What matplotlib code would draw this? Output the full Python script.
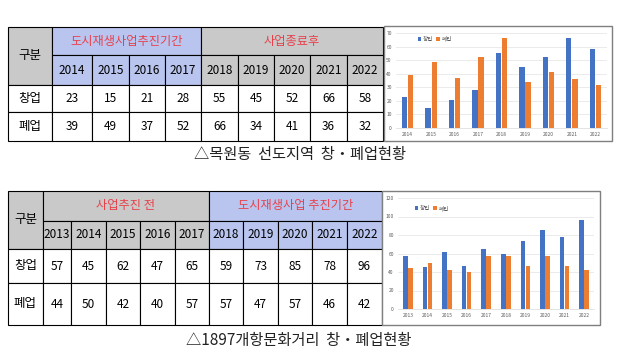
import matplotlib.pyplot as plt
import matplotlib.patches as patches
import numpy as np

plt.rcParams['font.family'] = ['Noto Sans CJK KR', 'DejaVu Sans']
plt.rcParams['font.weight'] = 'light'

years1 = [2014, 2015, 2016, 2017, 2018, 2019, 2020, 2021, 2022]
open1 = [23, 15, 21, 28, 55, 45, 52, 66, 58]
close1 = [39, 49, 37, 52, 66, 34, 41, 36, 32]
groups1 = [("도시재생사업추진기간", 4, 'blue'), ("사업종료후", 5, 'gray')]
caption1 = "△목원동  선도지역  창・폐업현황"

years2 = [2013, 2014, 2015, 2016, 2017, 2018, 2019, 2020, 2021, 2022]
open2 = [57, 45, 62, 47, 65, 59, 73, 85, 78, 96]
close2 = [44, 50, 42, 40, 57, 57, 47, 57, 46, 42]
groups2 = [("사업추진 전", 5, 'gray'), ("도시재생사업 추진기간", 5, 'blue')]
caption2 = "△1897개항문화거리  창・폐업현황"

row_labels = ["창업", "폐업"]
series_names = ["창업", "폐업"]

gray = '#c9c9c9'
blue = '#b9c5ef'
red = '#e8404a'
bar_blue = '#4472c4'
bar_orange = '#ed7d31'

fig = plt.figure(figsize=(6.2, 3.63), dpi=100)
canvas = fig.add_axes([0, 0, 1, 1])
canvas.set_xlim(0, 620)
canvas.set_ylim(363, 0)
canvas.axis('off')


def draw_table(col_edges, row_edges, years, opens, closes, groups):
    fills = {'gray': gray, 'blue': blue}
    x0 = col_edges[0]
    y0 = row_edges[0]
    # 구분 cell
    canvas.add_patch(patches.Rectangle((x0, y0), col_edges[1] - x0, row_edges[2] - y0,
                                       facecolor=gray, edgecolor='black', lw=0.8))
    canvas.text((x0 + col_edges[1]) / 2, (y0 + row_edges[2]) / 2, "구분",
                ha='center', va='center', fontsize=9)
    # group headers + year cells
    c = 1
    for label, n, kind in groups:
        xa, xb = col_edges[c], col_edges[c + n]
        canvas.add_patch(patches.Rectangle((xa, y0), xb - xa, row_edges[1] - y0,
                                           facecolor=fills[kind], edgecolor='black', lw=0.8))
        canvas.text((xa + xb) / 2, (y0 + row_edges[1]) / 2, label, color=red,
                    ha='center', va='center', fontsize=8.8)
        for k in range(c, c + n):
            canvas.add_patch(patches.Rectangle((col_edges[k], row_edges[1]),
                                               col_edges[k + 1] - col_edges[k],
                                               row_edges[2] - row_edges[1],
                                               facecolor=fills[kind], edgecolor='black', lw=0.8))
        c += n
    for k, yr in enumerate(years):
        canvas.text((col_edges[k + 1] + col_edges[k + 2]) / 2,
                    (row_edges[1] + row_edges[2]) / 2, str(yr),
                    ha='center', va='center', fontsize=8.5)
    # data rows
    for r, vals in enumerate([opens, closes]):
        ya, yb = row_edges[2 + r], row_edges[3 + r]
        for k in range(len(col_edges) - 1):
            canvas.add_patch(patches.Rectangle((col_edges[k], ya), col_edges[k + 1] - col_edges[k],
                                               yb - ya, facecolor='white', edgecolor='black', lw=0.8))
        canvas.text((col_edges[0] + col_edges[1]) / 2, (ya + yb) / 2, row_labels[r],
                    ha='center', va='center', fontsize=9)
        for k, v in enumerate(vals):
            canvas.text((col_edges[k + 1] + col_edges[k + 2]) / 2, (ya + yb) / 2, str(v),
                        ha='center', va='center', fontsize=8.5)


def draw_chart(box, plot, years, opens, closes, ymax, ystep, legend_anchor):
    bx0, by0, bx1, by1 = box
    canvas.add_patch(patches.Rectangle((bx0, by0), bx1 - bx0, by1 - by0,
                                       facecolor='white', edgecolor='#7f7f7f', lw=1.0, zorder=5))
    px0, py0, px1, py1 = plot
    ax = fig.add_axes([px0 / 620, (363 - py1) / 363, (px1 - px0) / 620, (py1 - py0) / 363])
    ax.set_zorder(10)
    x = np.arange(len(years))
    w = 0.23
    b1 = ax.bar(x - 0.13, opens, w, color=bar_blue, zorder=3)
    b2 = ax.bar(x + 0.13, closes, w, color=bar_orange, zorder=3)
    ax.set_xlim(-0.5, len(years) - 0.5)
    ax.set_ylim(0, ymax)
    ax.set_yticks(np.arange(0, ymax + 1, ystep))
    ax.set_xticks(x)
    ax.set_xticklabels([str(y) for y in years])
    ax.tick_params(labelsize=3.5, labelcolor='#595959', length=0, pad=3)
    ax.grid(axis='y', color='#e3e3e3', lw=0.5, zorder=0)
    for s in ['top', 'right', 'left']:
        ax.spines[s].set_visible(False)
    ax.spines['bottom'].set_color('#d9d9d9')
    ax.spines['bottom'].set_linewidth(0.5)
    ax.patch.set_alpha(0)
    ax.legend([b1, b2], series_names, loc='upper left', bbox_to_anchor=legend_anchor,
              frameon=False, ncol=2, prop={'family': 'Noto Sans CJK KR', 'size': 4},
              handlelength=0.6, handleheight=0.6, handletextpad=0.3, columnspacing=0.6,
              labelcolor='#595959')


# table 1 and chart 1
cols1 = [8, 52, 92, 129, 165, 201, 238, 274, 310, 347, 383]
rows1 = [27, 55, 85, 112, 141]
draw_table(cols1, rows1, years1, open1, close1, groups1)
draw_chart((384, 26, 612, 141), (396, 33, 607, 128), years1, open1, close1, 70, 10, (0.08, 1.02))
canvas.text(300, 155, caption1, ha='center', va='center', fontsize=11, color='#222222')

# table 2 and chart 2
cols2 = [8, 43, 71, 106, 140, 175, 209, 243, 278, 312, 347, 382]
rows2 = [191, 221, 249, 283, 325]
draw_table(cols2, rows2, years2, open2, close2, groups2)
draw_chart((382, 191, 600, 325), (398, 198, 594, 309), years2, open2, close2, 120, 20, (0.06, 0.98))
canvas.text(299, 340, caption2, ha='center', va='center', fontsize=11, color='#222222')

fig.savefig('out.png', dpi=100, facecolor='white')
